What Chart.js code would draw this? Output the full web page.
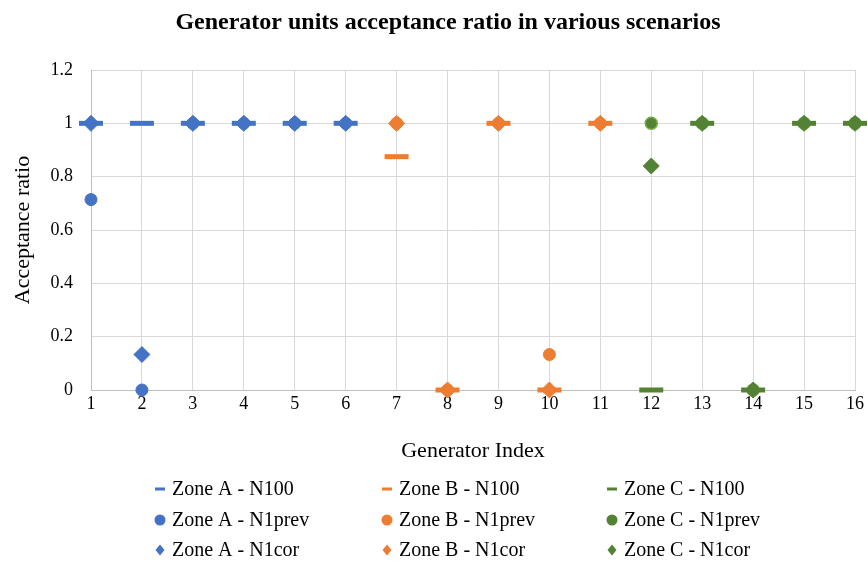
<!DOCTYPE html>
<html>
<head>
<meta charset="utf-8">
<script src="https://cdn.jsdelivr.net/npm/chart.js@4"></script>
<style>
  html, body { margin: 0; padding: 0; background: #fff; }
  #wrap { width: 868px; height: 562px; }
</style>
</head>
<body>
<div id="wrap"><canvas id="chart" width="868" height="562"></canvas></div>
<script>
// generator indices per zone
const zoneAIndex = [1, 2, 3, 4, 5, 6];
const zoneBIndex = [7, 8, 9, 10, 11];
const zoneCIndex = [12, 13, 14, 15, 16];

// acceptance ratios
const zoneA_N100 = [1, 1, 1, 1, 1, 1];
const zoneA_N1prev = [0.714, 0, 1, 1, 1, 1];
const zoneA_N1cor = [1, 0.133, 1, 1, 1, 1];

const zoneB_N100 = [0.875, 0, 1, 0, 1];
const zoneB_N1prev = [1, 0, 1, 0.133, 1];
const zoneB_N1cor = [1, 0, 1, 0, 1];

const zoneC_N100 = [0, 1, 0, 1, 1];
const zoneC_N1prev = [1, 1, 0, 1, 1];
const zoneC_N1cor = [0.84, 1, 0, 1, 1];

const chartTitle = "Generator units acceptance ratio in various scenarios";

const BLUE = "#4472C4";
const ORANGE = "#ED7D31";
const GREEN = "#548235";
const FONT = "'Liberation Serif', 'DejaVu Serif', serif";

function pts(xs, ys) {
    return xs.map((x, i) => ({ x: x, y: ys[i] }));
}

function dashSet(label, xs, ys, color) {
    return {
        label: label, data: pts(xs, ys), order: 3, clip: false,
        pointStyle: "line", pointRadius: 12, pointHoverRadius: 12,
        borderColor: color, backgroundColor: color, pointBorderWidth: 5, pointHoverBorderWidth: 5
    };
}
function circleSet(label, xs, ys, color, edge) {
    return {
        label: label, data: pts(xs, ys), order: 2, clip: false,
        pointStyle: "circle", pointRadius: 6, pointHoverRadius: 6,
        borderColor: edge || color, backgroundColor: color, pointBorderWidth: edge ? 1.5 : 1
    };
}
function diamondSet(label, xs, ys, color) {
    return {
        label: label, data: pts(xs, ys), order: 1, clip: false,
        pointStyle: "rectRot", pointRadius: 8, pointHoverRadius: 8,
        borderColor: color, backgroundColor: color, pointBorderWidth: 1
    };
}

const datasets = [
    dashSet("Zone A - N100", zoneAIndex, zoneA_N100, BLUE),
    dashSet("Zone B - N100", zoneBIndex, zoneB_N100, ORANGE),
    dashSet("Zone C - N100", zoneCIndex, zoneC_N100, GREEN),
    circleSet("Zone A - N1prev", zoneAIndex, zoneA_N1prev, BLUE),
    circleSet("Zone B - N1prev", zoneBIndex, zoneB_N1prev, ORANGE),
    circleSet("Zone C - N1prev", zoneCIndex, zoneC_N1prev, GREEN, "#70AD47"),
    diamondSet("Zone A - N1cor", zoneAIndex, zoneA_N1cor, BLUE),
    diamondSet("Zone B - N1cor", zoneBIndex, zoneB_N1cor, ORANGE),
    diamondSet("Zone C - N1cor", zoneCIndex, zoneC_N1cor, GREEN)
];

// title + 3x3 legend, drawn by hand so they sit where the original has them
const extras = {
    id: "extras",
    afterDraw(chart) {
        const ctx = chart.ctx;
        ctx.save();
        ctx.fillStyle = "#000";
        ctx.font = "bold 24px " + FONT;
        ctx.textAlign = "center";
        ctx.textBaseline = "middle";
        ctx.fillText(chartTitle, 448, 23);

        const colMarker = [160, 387, 612];
        const rowY = [489, 520, 550];
        ctx.font = "20px " + FONT;
        ctx.textAlign = "left";
        chart.data.datasets.forEach((ds, i) => {
            const x = colMarker[i % 3];
            const y = rowY[Math.floor(i / 3)];
            ctx.fillStyle = ds.backgroundColor;
            if (ds.pointStyle === "line") {
                ctx.fillRect(x - 5, y - 1.5, 10, 3);
            } else if (ds.pointStyle === "circle") {
                ctx.beginPath();
                ctx.arc(x, y, 5.5, 0, Math.PI * 2);
                ctx.fill();
            } else {
                ctx.beginPath();
                ctx.moveTo(x, y - 5.5);
                ctx.lineTo(x + 4.5, y);
                ctx.lineTo(x, y + 5.5);
                ctx.lineTo(x - 4.5, y);
                ctx.closePath();
                ctx.fill();
            }
            ctx.fillStyle = "#000";
            ctx.fillText(ds.label, x + 12, y + 1);
        });
        ctx.restore();
    }
};

new Chart(document.getElementById("chart"), {
    type: "scatter",
    data: { datasets: datasets },
    plugins: [extras],
    options: {
        responsive: false,
        animation: false,
        layout: { autoPadding: false, padding: { left: 0, right: 13, top: 70, bottom: 97 } },
        plugins: {
            legend: { display: false },
            tooltip: { enabled: false },
            title: { display: false }
        },
        scales: {
            x: {
                type: "linear",
                min: 1, max: 16,
                ticks: { stepSize: 1, color: "#000", font: { family: FONT, size: 18 }, padding: 3 },
                grid: { color: "#d9d9d9", drawTicks: false },
                border: { color: "#bfbfbf" },
                title: {
                    display: true, text: "Generator Index", color: "#000",
                    font: { family: FONT, size: 22 }, padding: { top: 0, bottom: 1 }
                },
                afterFit(scale) {
                    scale.height = 75;
                    scale.paddingLeft = 0;
                    scale.paddingRight = 0;
                }
            },
            y: {
                min: 0, max: 1.2,
                ticks: {
                    stepSize: 0.2, color: "#000", font: { family: FONT, size: 18 }, padding: 18,
                    callback: (v) => String(Math.round(v * 10) / 10)
                },
                grid: { color: "#d9d9d9", drawTicks: false },
                border: { color: "#bfbfbf" },
                title: {
                    display: true, text: "Acceptance ratio", color: "#000",
                    font: { family: FONT, size: 22 }, padding: { top: 10, bottom: 0 }
                },
                afterFit(scale) {
                    scale.width = 91;
                    scale.paddingTop = 0;
                    scale.paddingBottom = 0;
                }
            }
        }
    }
});
</script>
</body>
</html>
